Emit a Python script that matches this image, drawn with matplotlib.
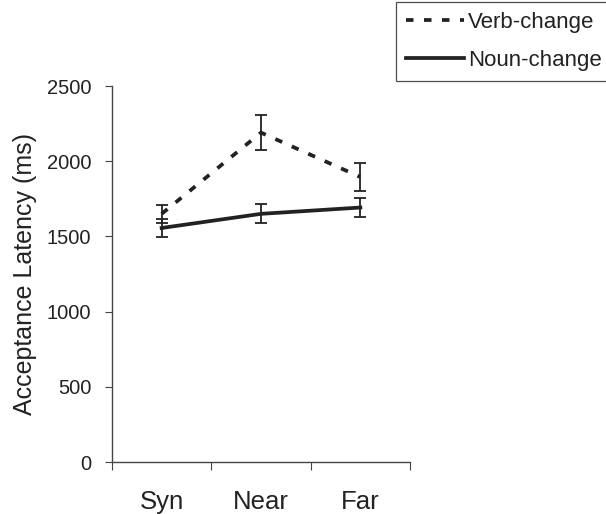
import matplotlib.pyplot as plt

plt.rcParams["font.family"] = ["Liberation Sans", "DejaVu Sans"]

categories = ["Syn", "Near", "Far"]
verb_means = [1650, 2190, 1895]
verb_err = [60, 115, 93]
noun_means = [1556, 1650, 1692]
noun_err = [60, 63, 63]

ink = "#222222"

fig = plt.figure(figsize=(6.06, 5.14), dpi=100)
ax = fig.add_axes([112 / 606, 1 - 462 / 514, 298 / 606, 376 / 514])

x = [0.5, 1.5, 2.5]
lv, = ax.plot(x, verb_means, color=ink, lw=2.7, linestyle=(0, (2, 2.8)),
              dash_capstyle="butt", label="Verb-change")
ax.errorbar(x, verb_means, yerr=verb_err, fmt="none", ecolor=ink, elinewidth=1.3, capsize=4, capthick=1.3)
ln, = ax.plot(x, noun_means, color=ink, lw=2.7, label="Noun-change")
ax.errorbar(x, noun_means, yerr=noun_err, fmt="none", ecolor=ink, elinewidth=1.3, capsize=4, capthick=1.3)

ax.set_xlim(0, 3)
ax.set_ylim(0, 2500)
ax.set_yticks([0, 500, 1000, 1500, 2000, 2500])
ax.set_xticks([0, 1, 2, 3])
ax.set_xticklabels([])
ax.set_xticks(x, minor=True)
ax.set_xticklabels(categories, minor=True, fontsize=18.5, color=ink)
ax.tick_params(axis="x", which="minor", length=0, pad=20)
ax.tick_params(axis="x", which="major", direction="out", length=6, color="#444444")
ax.tick_params(axis="y", direction="out", length=5, color="#444444", labelsize=14.5, labelcolor=ink, pad=10)
for s in ["top", "right"]:
    ax.spines[s].set_visible(False)
for s in ["left", "bottom"]:
    ax.spines[s].set_color("#444444")
    ax.spines[s].set_linewidth(1.0)
ax.set_ylabel("Acceptance Latency (ms)", fontsize=18, color=ink, labelpad=7)

leg = fig.legend(handles=[lv, ln], loc="upper left", bbox_to_anchor=(396 / 606, 1 - 2 / 514),
                 fontsize=16, frameon=True, fancybox=False, edgecolor=ink, handlelength=2.6,
                 handletextpad=0.2, borderpad=0.45, labelspacing=0.75, borderaxespad=0)
leg.get_frame().set_linewidth(0.9)
for t in leg.get_texts():
    t.set_color(ink)

fig.savefig("out.png", dpi=100)
